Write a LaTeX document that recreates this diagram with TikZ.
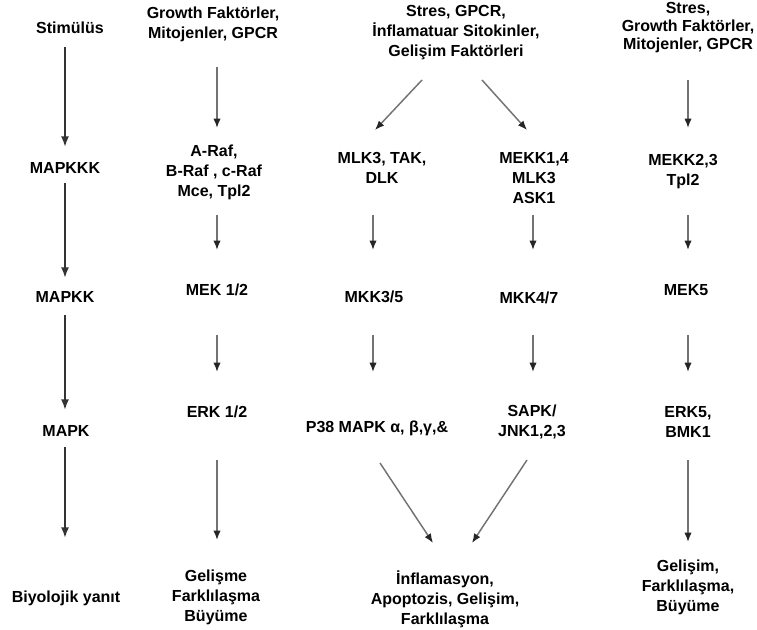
\documentclass[tikz,border=0pt]{standalone}
\usepackage{fontspec}
\setmainfont{Liberation Sans}
\usetikzlibrary{arrows.meta,calc}

\tikzset{
  lbl/.style={font=\fontsize{12}{15}\selectfont\bfseries, align=center, inner sep=0pt},
  arr/.style={color=black!55, line width=1.1pt, -{Latex[length=7pt,width=5.5pt,color=black!85]}},
  mainarr/.style={color=black!80, line width=1.3pt, -{Latex[length=8pt,width=6pt]}}
}

\begin{document}
\begin{tikzpicture}[x=0.75pt,y=-0.75pt]
        % \draw[help lines] (0,0) grid (757,629);
        \useasboundingbox (0,0) rectangle (757,629);

        \node[lbl] at (70,28) (stim) {Stimülüs};
        \node[lbl] at (65,168) (mapkkk) {MAPKKK};
        \node[lbl] at (65,297) (mapkk) {MAPKK};
        \node[lbl] at (66,431) (mapk) {MAPK};
        \node[lbl] at (66,598) (yanit) {Biyolojik yanıt};

        \node[lbl] at (213,24) (gf1) {Growth Faktörler,\\Mitojenler, GPCR};
        \node[lbl] at (214,172) (raf) {A-Raf,\\B-Raf , c-Raf\\Mce, Tpl2};
        \node[lbl] at (217,290) (mek12) {MEK 1/2};
        \node[lbl] at (217,412) (erk12) {ERK 1/2};
        \node[lbl] at (216,597) (gel1) {Gelişme\\Farklılaşma\\Büyüme};

        \node[lbl] at (456,33) (topc) {Stres, GPCR,\\İnflamatuar Sitokinler,\\Gelişim Faktörleri};
        \node[lbl] at (382,168) (mlk) {MLK3, TAK,\\DLK};
        \node[lbl] at (374,297) (mkk35) {MKK3/5};
        \node[lbl] at (377,428) (p38) {P38 MAPK α, β,γ,\&};
        \node[lbl] at (445,599) (inf) {İnflamasyon,\\Apoptozis, Gelişim,\\Farklılaşma};

        \node[lbl] at (534,178) (mekk14) {MEKK1,4\\MLK3\\ASK1};
        \node[lbl] at (529,298) (mkk47) {MKK4/7};
        \node[lbl] at (532,422) (sapk) {SAPK/\\JNK1,2,3};

        \node[lbl,font=\fontsize{12}{13.5}\selectfont\bfseries] at (688,28) (gf2) {Stres,\\Growth Faktörler,\\Mitojenler, GPCR};
        \node[lbl] at (683,172) (mekk23) {MEKK2,3\\Tpl2};
        \node[lbl] at (686,290) (mek5) {MEK5};
        \node[lbl] at (688,422) (erk5) {ERK5,\\BMK1};
        \node[lbl] at (688,587) (gel2) {Gelişim,\\Farklılaşma,\\Büyüme};

        \path[mainarr]
        ($(stim)+(-5,19)$) edge ($(mapkkk)+(0,-21)$)
        ($(mapkkk)+(0,15)$) edge ($(mapkk)+(0,-19)$)
        ($(mapkk)+(0,18)$) edge ($(mapk)+(-1,-21)$)
        ($(mapk)+(-1,16)$) edge ($(yanit)+(-1,-60)$);

        \path[arr]
        ($(gf1)+(4,43)$) edge ($(raf)+(3,-44)$)
        ($(raf)+(3,43)$) edge ($(mek12)+(0,-40)$)
        ($(mek12)+(0,45)$) edge ($(erk12)+(0,-40)$)
        ($(erk12)+(0,48)$) edge ($(gel1)+(1,-57)$)

        ($(topc)+(-34,47)$) edge ($(mlk)+(-7,-38)$)
        ($(topc)+(26,47)$) edge ($(mekk14)+(-7,-48)$)

        ($(mlk)+(-9,47)$) edge ($(mkk35)+(-1,-47)$)
        ($(mkk35)+(-1,38)$) edge ($(p38)+(-4,-56)$)
        ($(p38)+(3,35)$) edge ($(inf)+(-12,-56)$)

        ($(mekk14)+(-1,37)$) edge ($(mkk47)+(4,-48)$)
        ($(mkk47)+(4,37)$) edge ($(sapk)+(1,-50)$)
        ($(sapk)+(-5,38)$) edge ($(inf)+(27,-56)$)

        ($(gf2)+(0,52)$) edge ($(mekk23)+(5,-44)$)
        ($(mekk23)+(5,43)$) edge ($(mek5)+(2,-40)$)
        ($(mek5)+(2,45)$) edge ($(erk5)+(0,-50)$)
        ($(erk5)+(0,38)$) edge ($(gel2)+(0,-45)$);

\end{tikzpicture}
\end{document}
